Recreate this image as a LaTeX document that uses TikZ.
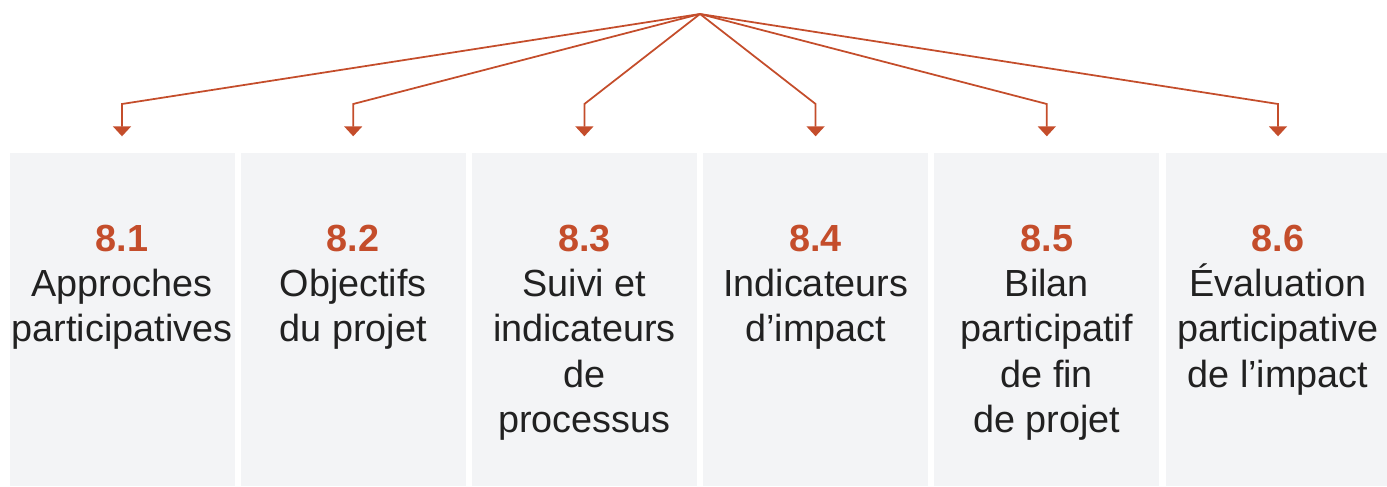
\documentclass[tikz,border=0pt]{standalone}
\usepackage{fontspec}
\setmainfont{Liberation Sans}
\usetikzlibrary{arrows.meta, positioning}

\definecolor{rouille}{RGB}{196,77,43}
\definecolor{fond}{RGB}{243,244,246}
\definecolor{encre}{RGB}{33,33,33}

\tikzset{
  bloc/.style={rectangle, fill=fond, minimum width=4.5cm, minimum height=6.66cm, anchor=south, inner sep=0pt},
  titre/.style={align=center, inner sep=0pt, text=encre, font=\fontsize{21.5}{25.8}\selectfont},
  fleche/.style={->, draw=rouille, line width=1pt}
}
\newcommand{\num}[1]{\textcolor{rouille}{\textbf{#1}}}

\begin{document}
\begin{tikzpicture}[>={Triangle[width=0.36cm,length=0.2cm]}]
   \useasboundingbox (0,0) rectangle (27.74,9.72);

   % Nodes
      \node[bloc] (app)  at (2.44,0)   {};
      \node[bloc] (obj)  at (7.064,0)  {};
      \node[bloc] (suiv) at (11.688,0) {};
      \node[bloc] (ind)  at (16.312,0) {};
      \node[bloc] (bil)  at (20.936,0) {};
      \node[bloc] (eval) at (25.56,0)  {};

      \node[titre, below=1.44cm of app.north]  (tapp)  {\num{8.1}\\Approches\\participatives};
      \node[titre, below=1.44cm of obj.north]  (tobj)  {\num{8.2}\\Objectifs\\du projet};
      \node[titre, below=1.44cm of suiv.north] (tsuiv) {\num{8.3}\\Suivi et\\indicateurs\\de\\processus};
      \node[titre, below=1.44cm of ind.north]  (tind)  {\num{8.4}\\Indicateurs\\d’impact};
      \node[titre, below=1.44cm of bil.north]  (tbil)  {\num{8.5}\\Bilan\\participatif\\de fin\\de projet};
      \node[titre, below=1.44cm of eval.north] (teval) {\num{8.6}\\Évaluation\\participative\\de l’impact};

      \coordinate (som) at (14.0,9.44);

   % Paths
      \draw[fleche] (som) -- (app.north  |- 0,7.64) -- ([yshift=0.32cm]app.north);
      \draw[fleche] (som) -- (obj.north  |- 0,7.64) -- ([yshift=0.32cm]obj.north);
      \draw[fleche] (som) -- (suiv.north |- 0,7.64) -- ([yshift=0.32cm]suiv.north);
      \draw[fleche] (som) -- (ind.north  |- 0,7.64) -- ([yshift=0.32cm]ind.north);
      \draw[fleche] (som) -- (bil.north  |- 0,7.64) -- ([yshift=0.32cm]bil.north);
      \draw[fleche] (som) -- (eval.north |- 0,7.64) -- ([yshift=0.32cm]eval.north);
\end{tikzpicture}
\end{document}
